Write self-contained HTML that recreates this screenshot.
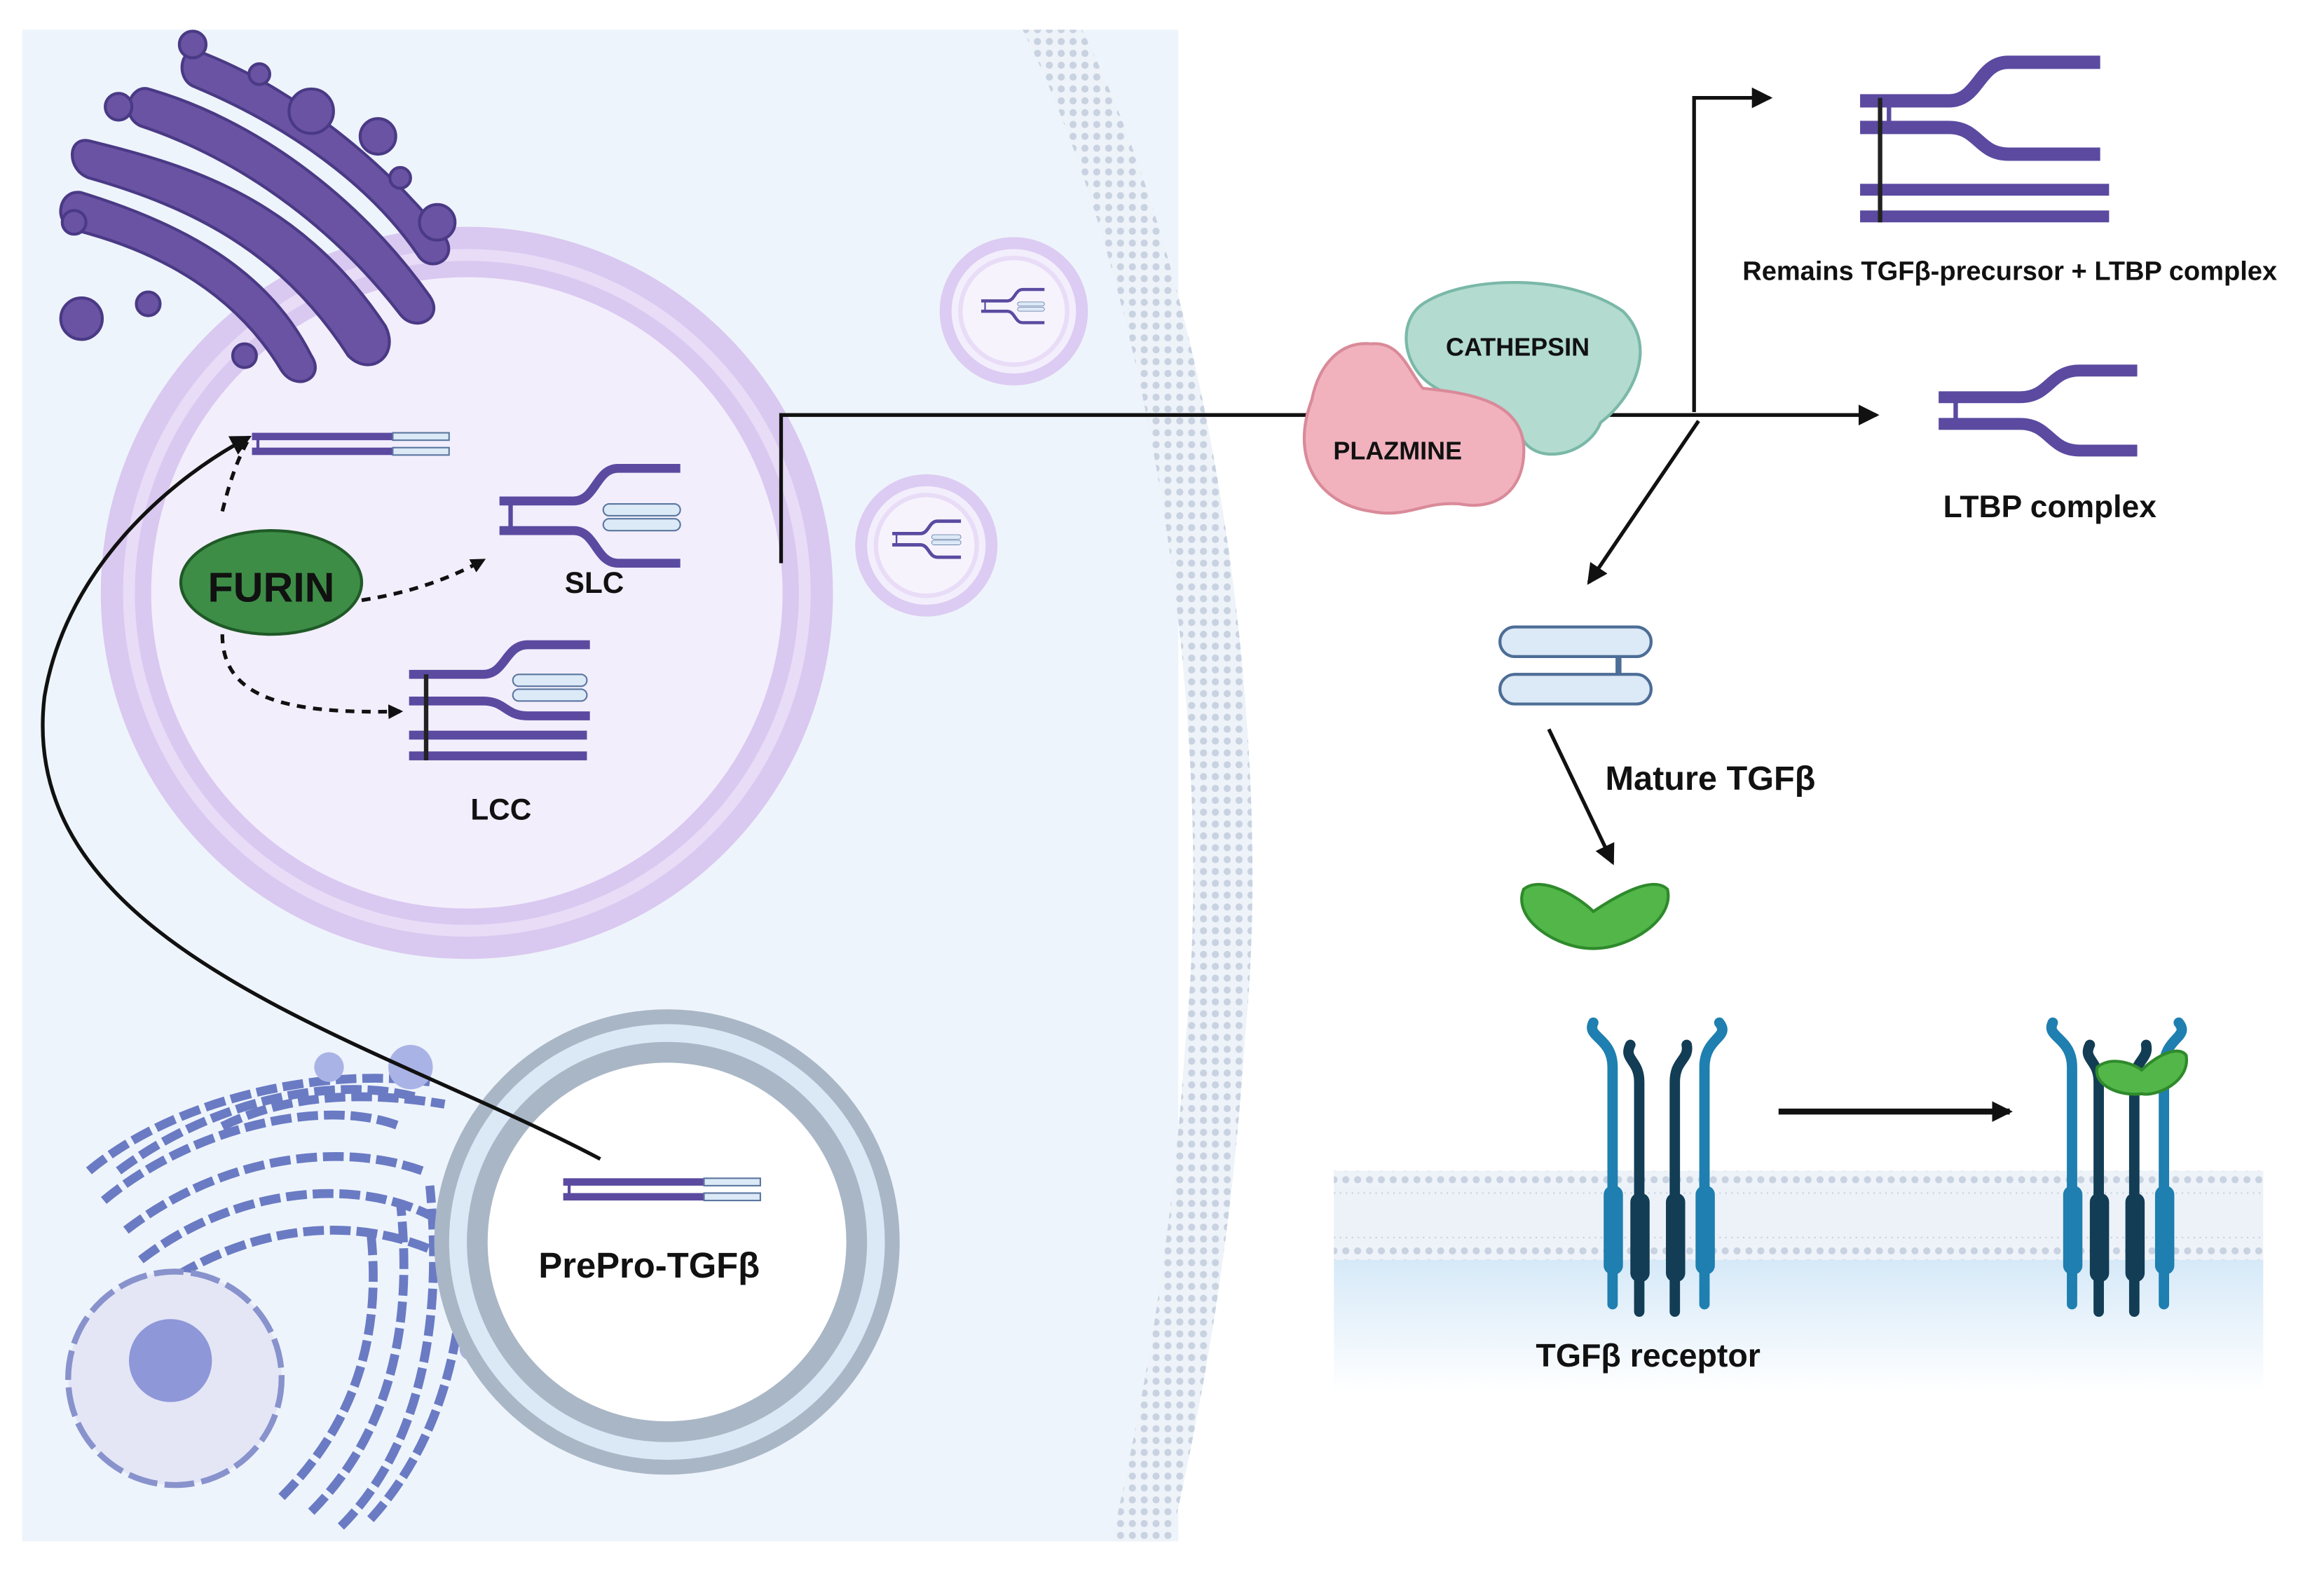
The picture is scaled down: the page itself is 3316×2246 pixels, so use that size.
<!DOCTYPE html>
<html><head><meta charset="utf-8"><style>
html,body{margin:0;padding:0;background:#fff}
svg{display:block}
text{font-family:"Liberation Sans",sans-serif;font-weight:bold;fill:#111}
</style></head><body>
<svg width="3316" height="2246" viewBox="0 0 1568 1062" xmlns="http://www.w3.org/2000/svg">
<defs>
<marker id="ah" markerWidth="10" markerHeight="10" refX="8" refY="5" orient="auto" markerUnits="userSpaceOnUse"><path d="M0,0 L10,5 L0,10 z" fill="#111"/></marker>
<marker id="ah2" markerWidth="14" markerHeight="14" refX="12" refY="7" orient="auto" markerUnits="userSpaceOnUse"><path d="M0,0 L14,7 L0,14 z" fill="#111"/></marker>
<pattern id="mem" width="8" height="8" patternUnits="userSpaceOnUse"><rect width="8" height="8" fill="#eef3f9"/><circle cx="4" cy="4" r="2.4" fill="#c8d2e0"/></pattern>
<linearGradient id="ecm" x1="0" y1="0" x2="0" y2="1"><stop offset="0" stop-color="#d6e9f8"/><stop offset="1" stop-color="#ffffff"/></linearGradient>
<g id="prec">
<rect x="0" y="0" width="95" height="5" fill="#5b4aa0"/><rect x="95" y="0" width="38" height="5" fill="#dce9f6" stroke="#5b77a0" stroke-width="1"/>
<rect x="0" y="10" width="95" height="5" fill="#5b4aa0"/><rect x="95" y="10" width="38" height="5" fill="#dce9f6" stroke="#5b77a0" stroke-width="1"/>
<rect x="3" y="3" width="2" height="9" fill="#5b4aa0"/>
</g>
<g id="slc">
<path d="M0,0 H50 C65,0 65,-22 80,-22 H122" fill="none" stroke="#5b4aa0" stroke-width="6"/>
<path d="M0,20 H50 C65,20 65,42 80,42 H122" fill="none" stroke="#5b4aa0" stroke-width="6"/>
<rect x="70" y="2" width="52" height="8" rx="4" fill="#dce9f6" stroke="#5b77a0"/>
<rect x="70" y="12" width="52" height="8" rx="4" fill="#dce9f6" stroke="#5b77a0"/>
<rect x="6" y="0" width="3" height="20" fill="#5b4aa0"/>
</g>
</defs>
<!-- cell -->
<rect x="15" y="20" width="780" height="1020" fill="#eef4fb"/>
<path d="M690,20 C780,200 820,500 800,700 C790,850 770,950 750,1040 L790,1040 C810,950 830,850 840,700 C860,500 820,200 730,20 Z" fill="url(#mem)"/>
<!-- big vesicle -->
<circle cx="315" cy="400" r="230" fill="#f3eefc" stroke="#d9c8f0" stroke-width="34"/>
<circle cx="315" cy="400" r="228" fill="none" stroke="#e8dcf7" stroke-width="8"/>
<!-- golgi (in front) -->
<g fill="#6a53a3" stroke="#4a3a85" stroke-width="2">
<path d="M60,95 C120,110 200,130 260,220 C270,240 250,255 235,240 C190,170 130,140 60,120 C45,115 45,92 60,95Z"/>
<path d="M55,130 C120,150 180,180 210,240 C220,255 200,265 190,250 C160,200 110,170 50,155 C35,150 40,127 55,130Z"/>
<path d="M100,60 C170,80 240,130 290,200 C300,215 280,225 270,212 C230,160 170,110 95,85 C80,78 88,57 100,60Z"/>
<path d="M135,35 C200,60 260,110 300,160 C310,175 290,185 282,172 C250,125 195,85 130,58 C118,52 122,30 135,35Z"/>
<circle cx="80" cy="72" r="9"/><circle cx="55" cy="215" r="14"/><circle cx="100" cy="205" r="8"/><circle cx="130" cy="30" r="9"/><circle cx="175" cy="50" r="7"/><circle cx="210" cy="75" r="15"/><circle cx="255" cy="92" r="12"/><circle cx="295" cy="150" r="12"/><circle cx="50" cy="150" r="8"/><circle cx="165" cy="240" r="8"/><circle cx="270" cy="120" r="7"/>
</g>
<!-- small vesicles -->
<circle cx="684" cy="210" r="46" fill="#f3eefc" stroke="#dccbf2" stroke-width="8"/><circle cx="684" cy="210" r="36" fill="#f7f3fd" stroke="#e8dcf7" stroke-width="3"/>
<circle cx="625" cy="368" r="44" fill="#f3eefc" stroke="#dccbf2" stroke-width="8"/><circle cx="625" cy="368" r="34" fill="#f7f3fd" stroke="#e8dcf7" stroke-width="3"/>
<g transform="translate(662,203) scale(0.35)"><use href="#slc"/></g>
<g transform="translate(602,360) scale(0.38)"><use href="#slc"/></g>
<!-- ER + nucleus -->
<g fill="none" stroke="#6a7bc4" stroke-width="6" stroke-dasharray="14 4">
<path d="M70,810 C130,760 220,740 270,760"/><path d="M80,790 C140,745 220,725 280,740"/><path d="M85,830 C150,780 230,770 285,790"/><path d="M95,850 C160,800 240,795 290,820"/><path d="M150,760 C190,740 240,735 300,745"/>
<path d="M60,790 C120,740 220,720 290,730"/><path d="M105,870 C170,825 240,820 295,845"/>
<path d="M230,1030 C280,980 300,900 290,800"/><path d="M250,1025 C300,970 320,890 310,800"/><path d="M210,1020 C260,970 280,900 270,810"/><path d="M190,1010 C240,960 258,900 250,830"/>
</g>
<circle cx="118" cy="930" r="72" fill="#e4e6f6" stroke="#8892cc" stroke-width="4" stroke-dasharray="20 5"/>
<circle cx="115" cy="918" r="28" fill="#8e97d8"/>
<circle cx="222" cy="720" r="10" fill="#aab3e6"/><circle cx="277" cy="720" r="15" fill="#aab3e6"/><circle cx="320" cy="820" r="8" fill="#aab3e6"/><circle cx="318" cy="910" r="8" fill="#aab3e6"/>
<!-- bottom vesicle -->
<circle cx="450" cy="838" r="140" fill="#ffffff" stroke="#dbe8f6" stroke-width="30"/>
<circle cx="450" cy="838" r="128" fill="none" stroke="#a9b6c6" stroke-width="14"/>
<circle cx="450" cy="838" r="152" fill="none" stroke="#a9b6c6" stroke-width="10"/>
<use href="#prec" transform="translate(380,795)"/>
<text x="438" y="862" font-size="24" text-anchor="middle">PrePro-TGFβ</text>
<!-- furin stuff -->
<use href="#prec" transform="translate(170,292)"/>
<path d="M405,782 C250,700 10,640 30,470 C45,380 120,320 168,295" fill="none" stroke="#111" stroke-width="2.5" marker-end="url(#ah2)"/>
<path d="M150,345 C155,325 160,310 168,296" fill="none" stroke="#111" stroke-width="2.5" stroke-dasharray="6 5"/>
<ellipse cx="183" cy="393" rx="61" ry="35" fill="#3e8d47" stroke="#1f5a27" stroke-width="2"/>
<text x="183" y="406" font-size="28" text-anchor="middle">FURIN</text>
<path d="M244,405 C275,400 300,392 326,378" fill="none" stroke="#111" stroke-width="2.5" stroke-dasharray="6 5" marker-end="url(#ah)"/>
<path d="M150,428 C150,470 190,482 270,480" fill="none" stroke="#111" stroke-width="2.5" stroke-dasharray="6 5" marker-end="url(#ah)"/>
<use href="#slc" transform="translate(337,338)"/>
<text x="401" y="400" font-size="20" text-anchor="middle">SLC</text>
<g transform="translate(276,455)">
<path d="M0,0 H50 C65,0 65,-20 80,-20 H122" fill="none" stroke="#5b4aa0" stroke-width="6"/>
<path d="M0,18 H50 C65,18 65,28 80,28 H122" fill="none" stroke="#5b4aa0" stroke-width="6"/>
<rect x="70" y="0" width="50" height="8" rx="4" fill="#dce9f6" stroke="#5b77a0"/>
<rect x="70" y="10" width="50" height="8" rx="4" fill="#dce9f6" stroke="#5b77a0"/>
<rect x="0" y="38" width="120" height="6" fill="#5b4aa0"/><rect x="0" y="52" width="120" height="6" fill="#5b4aa0"/><rect x="10" y="0" width="3" height="58" fill="#222"/></g>
<text x="338" y="553" font-size="20" text-anchor="middle">LCC</text>
<!-- main connector -->
<path d="M527,380 V280 H1266" fill="none" stroke="#111" stroke-width="2.5" marker-end="url(#ah2)"/>
<path d="M1143,278 V66 H1194" fill="none" stroke="#111" stroke-width="2.5" marker-end="url(#ah2)"/>
<path d="M1146,284 L1072,393" fill="none" stroke="#111" stroke-width="2.5" marker-end="url(#ah2)"/>
<!-- enzymes -->
<path d="M960,205 C990,185 1060,185 1095,210 C1120,235 1100,270 1080,285 C1070,310 1030,315 1025,290 C1020,270 980,275 960,255 C945,240 945,215 960,205Z" fill="#b3dbd0" stroke="#7ab8a8" stroke-width="2"/>
<path d="M885,270 C890,245 905,230 925,232 C945,230 950,250 960,262 C990,265 1025,270 1028,300 C1030,330 1010,345 985,340 C960,338 950,350 925,345 C890,340 870,310 885,270Z" fill="#f1b2bd" stroke="#d98a99" stroke-width="2"/>
<text x="1024" y="240" font-size="17" text-anchor="middle">CATHEPSIN</text>
<text x="943" y="310" font-size="17" text-anchor="middle">PLAZMINE</text>
<!-- right complexes -->
<g transform="translate(1255,0)">
<path d="M0,68 H60 C80,68 80,42 100,42 H162" fill="none" stroke="#5b4aa0" stroke-width="9"/>
<path d="M0,86 H60 C80,86 80,104 100,104 H162" fill="none" stroke="#5b4aa0" stroke-width="9"/>
<rect x="0" y="124" width="168" height="8" fill="#5b4aa0"/><rect x="0" y="142" width="168" height="8" fill="#5b4aa0"/>
<rect x="12" y="66" width="3" height="84" fill="#222"/><rect x="18" y="66" width="3" height="22" fill="#5b4aa0"/>
</g>
<text x="1356" y="189" font-size="18" text-anchor="middle">Remains TGFβ-precursor + LTBP complex</text>
<g transform="translate(1308,268)">
<path d="M0,0 H55 C75,0 75,-18 95,-18 H134" fill="none" stroke="#5b4aa0" stroke-width="8"/>
<path d="M0,18 H55 C75,18 75,36 95,36 H134" fill="none" stroke="#5b4aa0" stroke-width="8"/>
<rect x="10" y="0" width="3" height="18" fill="#5b4aa0"/>
</g>
<text x="1383" y="349" font-size="21" text-anchor="middle">LTBP complex</text>
<g transform="translate(1012,423)">
<rect x="0" y="0" width="102" height="20" rx="10" fill="#dce9f6" stroke="#4c6d96" stroke-width="2"/>
<rect x="0" y="32" width="102" height="20" rx="10" fill="#dce9f6" stroke="#4c6d96" stroke-width="2"/>
<rect x="78" y="20" width="4" height="12" fill="#4c6d96"/>
</g>
<text x="1154" y="533" font-size="23" text-anchor="middle">Mature TGFβ</text>
<path d="M1045,492 L1088,582" stroke="#111" stroke-width="2.5" marker-end="url(#ah2)"/>
<path d="M1028,600 C1040,590 1065,605 1075,615 C1090,605 1115,590 1125,600 C1130,620 1100,640 1075,640 C1050,640 1020,620 1028,600Z" fill="#52b748" stroke="#2f8a2c" stroke-width="2"/>
<!-- receptor membrane -->
<rect x="900" y="850" width="627" height="90" fill="url(#ecm)"/>
<rect x="900" y="790" width="627" height="60" fill="#edf2f8"/>
<rect x="900" y="790" width="627" height="10" fill="url(#mem)"/><rect x="900" y="840" width="627" height="10" fill="url(#mem)"/>
<g stroke="#c7d1df" stroke-width="1"><path d="M900,805 H1527 M900,835 H1527" stroke-dasharray="1 3"/></g>
<g id="rec">
<g stroke-width="7" fill="none" stroke-linecap="round">
<path d="M1088,880 V720 C1088,700 1070,700 1075,690" stroke="#1e7fb0"/>
<path d="M1106,885 V730 C1106,715 1095,715 1100,705" stroke="#123d55"/>
<path d="M1130,885 V730 C1130,715 1140,715 1138,705" stroke="#123d55"/>
<path d="M1150,880 V720 C1150,700 1168,700 1160,690" stroke="#1e7fb0"/>
</g>
<rect x="1082" y="800" width="13" height="60" rx="6" fill="#1e7fb0"/><rect x="1100" y="805" width="13" height="60" rx="6" fill="#123d55"/>
<rect x="1124" y="805" width="13" height="60" rx="6" fill="#123d55"/><rect x="1144" y="800" width="13" height="60" rx="6" fill="#1e7fb0"/>
</g>
<use href="#rec" transform="translate(310,0)"/>
<path d="M1415,720 C1425,712 1440,718 1445,722 C1455,712 1470,705 1475,712 C1478,730 1455,740 1445,738 C1430,740 1412,732 1415,720Z" fill="#52b748" stroke="#2f8a2c" stroke-width="2"/>
<text x="1112" y="922" font-size="22" text-anchor="middle">TGFβ receptor</text>
<path d="M1200,750 H1356" stroke="#111" stroke-width="4" marker-end="url(#ah2)"/>
</svg>
</body></html>
